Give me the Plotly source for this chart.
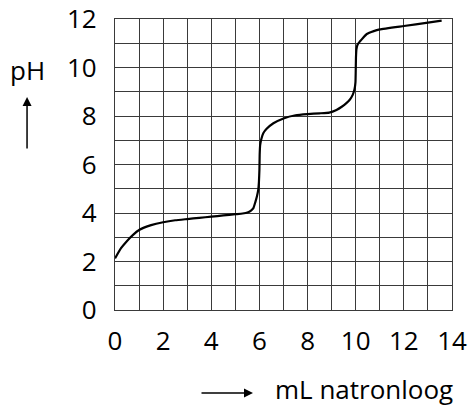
import plotly.graph_objects as go

# Titration curve: mL natronloog vs pH
ml_naoh = [0.0, 0.25, 0.5, 0.75, 1.0, 1.5, 2.0, 2.5, 3.0, 3.5, 4.0, 4.5, 5.0, 5.3,
           5.5, 5.65, 5.75, 5.83, 5.9, 5.95, 5.98, 6.0, 6.01, 6.03, 6.08, 6.16,
           6.3, 6.58, 7.0, 7.5, 8.0, 8.5, 8.9, 9.2, 9.42, 9.6, 9.76, 9.88, 9.95,
           9.99, 10.0, 10.01, 10.03, 10.08, 10.18, 10.3, 10.46, 10.75, 11.0, 12.0,
           13.0, 13.57]
ph_values = [2.13, 2.55, 2.85, 3.1, 3.3, 3.5, 3.62, 3.7, 3.75, 3.8, 3.85, 3.9, 3.95, 3.98,
             4.02, 4.1, 4.2, 4.45, 4.7, 4.95, 5.3, 5.8, 6.4, 6.8, 7.05, 7.29,
             7.47, 7.7, 7.9, 8.03, 8.08, 8.11, 8.14, 8.25, 8.38, 8.52, 8.68, 8.88, 9.1,
             9.4, 9.8, 10.4, 10.75, 10.95, 11.08, 11.22, 11.38, 11.5, 11.57, 11.71,
             11.85, 11.93]

x_tick_vals = list(range(0, 15))
x_tick_text = [str(v) if v % 2 == 0 else "" for v in x_tick_vals]
y_tick_vals = list(range(0, 13))
y_tick_text = [str(v) if v % 2 == 0 else "" for v in y_tick_vals]

x_label = "mL natronloog"
y_label = "pH"

FONT = "Open Sans"
WEIGHT = 500
GRID = "#3a3a3a"

fig = go.Figure()
fig.add_trace(go.Scatter(
    x=ml_naoh, y=ph_values, mode="lines",
    line=dict(color="black", width=2.2, shape="spline", smoothing=0.4),
    hoverinfo="skip", showlegend=False,
))

fig.update_layout(
    width=468, height=406,
    margin=dict(l=115, r=16, t=19, b=96, autoexpand=False),
    paper_bgcolor="white", plot_bgcolor="white",
    font=dict(family=FONT, size=26, color="black", weight=WEIGHT),
    xaxis=dict(
        range=[0, 14], tickmode="array", tickvals=x_tick_vals, ticktext=x_tick_text,
        showgrid=True, gridcolor=GRID, gridwidth=1.3, zeroline=False,
        showline=True, mirror=True, linecolor=GRID, linewidth=1.3,
        ticks="", ticklabelstandoff=8, fixedrange=True, automargin=False,
    ),
    yaxis=dict(
        range=[0, 12], tickmode="array", tickvals=y_tick_vals, ticktext=y_tick_text,
        showgrid=True, gridcolor=GRID, gridwidth=1.3, zeroline=False,
        showline=True, mirror=True, linecolor=GRID, linewidth=1.3,
        ticks="", ticklabelstandoff=12, fixedrange=True, automargin=False,
    ),
    annotations=[
        dict(text=y_label, xref="paper", yref="paper", x=-0.261, y=0.825,
             xanchor="center", yanchor="middle", showarrow=False,
             font=dict(family=FONT, size=26, color="black", weight=WEIGHT)),
        dict(text="", xref="paper", yref="paper", x=-0.261, y=0.732,
             ax=0, ay=53, showarrow=True, arrowhead=2, arrowsize=1.2,
             arrowwidth=1.5, arrowcolor="black"),
        dict(text=x_label, xref="paper", yref="paper", x=0.469, y=-0.272,
             xanchor="left", yanchor="middle", showarrow=False,
             font=dict(family=FONT, size=26, color="black", weight=WEIGHT)),
        dict(text="", xref="paper", yref="paper", x=0.4095, y=-0.285,
             ax=-53, ay=0, showarrow=True, arrowhead=2, arrowsize=1.2,
             arrowwidth=1.5, arrowcolor="black"),
    ],
)

fig.write_html("out.html", config={"displayModeBar": False},
               post_script="document.body.style.margin='0px';document.body.style.overflow='hidden';")
